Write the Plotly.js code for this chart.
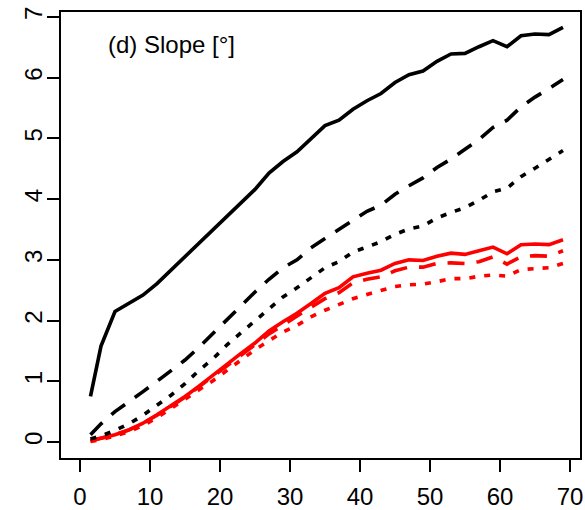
<!DOCTYPE html>
<html>
<head>
<meta charset="utf-8">
<script src="https://cdn.plot.ly/plotly-3.0.1.min.js"></script>
<style>html,body{margin:0;padding:0;background:#fff;}#chart{width:585px;height:510px;}</style>
</head>
<body>
<div id="chart"></div>
<script>
var xVals = [1.5,3,5,7,9,11,13,15,17,19,21,23,25,27,29,31,33,35,37,39,41,43,45,47,49,51,53,55,57,59,61,63,65,67,69];
var blackSolid = [0.75,1.58,2.15,2.28,2.42,2.61,2.83,3.05,3.28,3.51,3.72,3.93,4.16,4.43,4.62,4.78,5.0,5.21,5.30,5.48,5.62,5.74,5.92,6.05,6.11,6.27,6.39,6.40,6.51,6.61,6.51,6.69,6.72,6.71,6.83];
var blackDashed = [0.12,0.30,0.50,0.66,0.83,1.0,1.17,1.35,1.56,1.79,2.0,2.25,2.47,2.68,2.87,3.0,3.20,3.35,3.50,3.66,3.80,3.90,4.08,4.22,4.35,4.52,4.66,4.82,4.98,5.18,5.30,5.52,5.68,5.82,5.97];
var blackDotted = [0.05,0.10,0.19,0.30,0.44,0.60,0.77,0.96,1.18,1.37,1.60,1.80,2.0,2.2,2.39,2.54,2.70,2.87,2.97,3.13,3.21,3.30,3.42,3.51,3.56,3.69,3.78,3.86,3.98,4.12,4.18,4.37,4.51,4.65,4.80];
var redSolid = [0.02,0.06,0.12,0.20,0.31,0.45,0.60,0.75,0.92,1.10,1.29,1.46,1.63,1.83,1.98,2.12,2.28,2.45,2.54,2.72,2.78,2.83,2.94,3.0,2.99,3.06,3.11,3.09,3.15,3.21,3.10,3.25,3.26,3.25,3.33];
var redDashed = [0.02,0.06,0.12,0.20,0.31,0.44,0.59,0.74,0.91,1.08,1.26,1.43,1.60,1.78,1.93,2.07,2.22,2.36,2.46,2.62,2.68,2.72,2.82,2.88,2.88,2.94,2.95,2.94,2.97,3.05,2.93,3.05,3.07,3.06,3.15];
var redDotted = [0.01,0.04,0.10,0.17,0.27,0.40,0.55,0.71,0.86,1.01,1.18,1.35,1.52,1.67,1.81,1.92,2.06,2.17,2.26,2.36,2.43,2.49,2.56,2.59,2.60,2.64,2.69,2.69,2.73,2.75,2.73,2.84,2.86,2.87,2.94];
var xTicks = [0,10,20,30,40,50,60,70];
var yTicks = [0,1,2,3,4,5,6,7];
var panelLabel = "(d) Slope [°]";

var W = 3.6;
var DASH = "17px,12px";
var DOT = "6px,9px";
function tr(y, color, dash) {
  return {x: xVals, y: y, type: "scatter", mode: "lines",
    line: {color: color, width: W, dash: dash}, hoverinfo: "skip", showlegend: false};
}
var data = [
  tr(redDotted, "#ff0000", DOT),
  tr(redDashed, "#ff0000", DASH),
  tr(redSolid, "#ff0000", "solid"),
  tr(blackDotted, "#000000", DOT),
  tr(blackDashed, "#000000", DASH),
  tr(blackSolid, "#000000", "solid")
];
var font = {family: "Liberation Sans, Arial, sans-serif", color: "#000"};
var layout = {
  width: 585, height: 510,
  margin: {l: 61, r: 5, t: 12, b: 52, pad: 0},
  paper_bgcolor: "#fff", plot_bgcolor: "#fff",
  showlegend: false,
  xaxis: {range: [-2.714, 71.43], tickvals: xTicks, ticktext: xTicks.map(String),
    ticks: "outside", ticklen: 12, tickwidth: 2, tickcolor: "#000",
    showline: true, linewidth: 2, linecolor: "#000", mirror: true,
    showgrid: false, zeroline: false, ticklabelstandoff: 4,
    tickfont: Object.assign({size: 24}, font)},
  yaxis: {range: [-0.2635, 7.082], tickvals: yTicks, ticktext: yTicks.map(String),
    ticks: "outside", ticklen: 12, tickwidth: 2, tickcolor: "#000", tickangle: -90,
    showline: true, linewidth: 2, linecolor: "#000", mirror: true,
    showgrid: false, zeroline: false, ticklabelstandoff: -5,
    tickfont: Object.assign({size: 24}, font)},
  annotations: [{text: panelLabel, xref: "paper", yref: "paper", x: (106-61)/519, y: 1 - (45-12)/446,
    xanchor: "left", yanchor: "middle", showarrow: false, font: Object.assign({size: 24}, font)}]
};
Plotly.newPlot("chart", data, layout, {displayModeBar: false, staticPlot: true});
</script>
</body>
</html>
